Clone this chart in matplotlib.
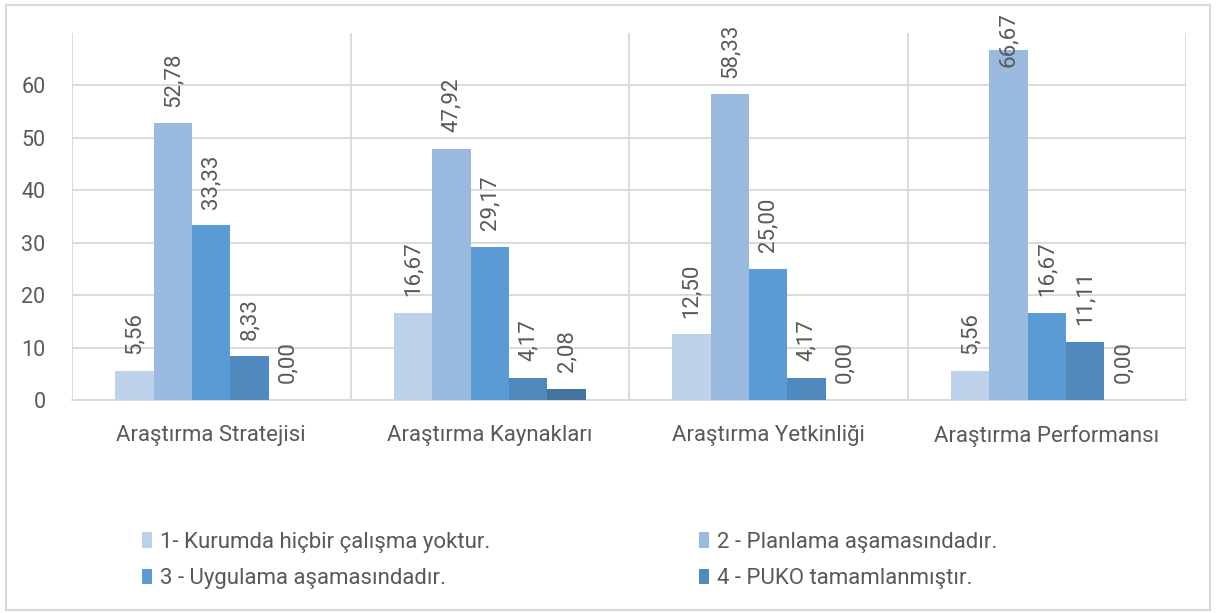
import matplotlib
matplotlib.use("Agg")
import matplotlib.pyplot as plt
from matplotlib.patches import Rectangle
import numpy as np

categories = ["Araştırma Stratejisi", "Araştırma Kaynakları", "Araştırma Yetkinliği", "Araştırma Performansı"]
series_labels = ["1- Kurumda hiçbir çalışma yoktur.", "2 - Planlama aşamasındadır.",
                 "3 - Uygulama aşamasındadır.", "4 - PUKO tamamlanmıştır.", None]
s1 = [5.56, 16.67, 12.50, 5.56]
s2 = [52.78, 47.92, 58.33, 66.67]
s3 = [33.33, 29.17, 25.00, 16.67]
s4 = [8.33, 4.17, 4.17, 11.11]
s5 = [0.00, 2.08, 0.00, 0.00]
series = [s1, s2, s3, s4, s5]
colors = ["#BDD1EA", "#99B9DF", "#5B9BD5", "#4F89BD", "#44739F"]

plt.rcParams['font.family'] = ['Roboto', 'DejaVu Sans']
txt = "#595959"
grid = "#D9D9D9"

fig = plt.figure(figsize=(12.16, 6.13), dpi=100)
ax = fig.add_axes([72/1216, 1-400/613, (1186-72)/1216, (400-33)/613])

n = len(categories)
x = np.arange(n)
w = 0.138
handles = []
for i, (vals, col, lab) in enumerate(zip(series, colors, series_labels)):
    pos = x + (i - 2) * w
    b = ax.bar(pos, vals, width=w, color=col, label=lab if lab else "_nolegend_", zorder=3)
    if lab:
        handles.append((b, lab))
    for px, v in zip(pos, vals):
        yv = min(v, 60.3)
        ax.annotate(f"{v:.2f}".replace(".", ","), xy=(px, yv), xytext=(0, 12),
                    textcoords="offset points", rotation=90, ha="center", va="bottom",
                    fontsize=16, color=txt, zorder=4, annotation_clip=False)

ax.set_xlim(-0.5, n - 0.5)
ax.set_ylim(0, 70)
ax.set_yticks([0, 10, 20, 30, 40, 50, 60])
ax.set_xticks(x)
ax.set_xticklabels(categories)
ax.set_xticks(np.arange(n + 1) - 0.5, minor=True)
ax.tick_params(axis='x', which='major', length=0, pad=18, labelsize=16, labelcolor=txt)
ax.tick_params(axis='x', which='minor', length=0)
ax.tick_params(axis='y', length=0, pad=19, labelsize=15.5, labelcolor=txt)
ax.grid(axis='y', which='major', color=grid, lw=1.3, zorder=0)
ax.grid(axis='x', which='minor', color=grid, lw=1.3, zorder=0)
ax.grid(axis='x', which='major', visible=False)
for s in ['top', 'right', 'left']:
    ax.spines[s].set_visible(False)
ax.spines['bottom'].set_color(grid)
ax.spines['bottom'].set_linewidth(1.3)

# row-major order for a 2-column legend
order = [0, 2, 1, 3]
hs = [handles[k][0] for k in order]
ls = [handles[k][1] for k in order]
leg = fig.legend(hs, ls, loc='upper left', bbox_to_anchor=(142/1216, 1-532/613),
                 ncol=2, frameon=False, fontsize=16, handlelength=0.45, handleheight=0.7,
                 handletextpad=0.35, columnspacing=9.4, labelspacing=0.68, labelcolor=txt,
                 borderaxespad=0, borderpad=0)

fig.patches.append(Rectangle((6/1216, 3/613), 1204/1216, 605/613, transform=fig.transFigure,
                             fill=False, edgecolor=grid, lw=1.5))
fig.savefig("out.png", dpi=100)
